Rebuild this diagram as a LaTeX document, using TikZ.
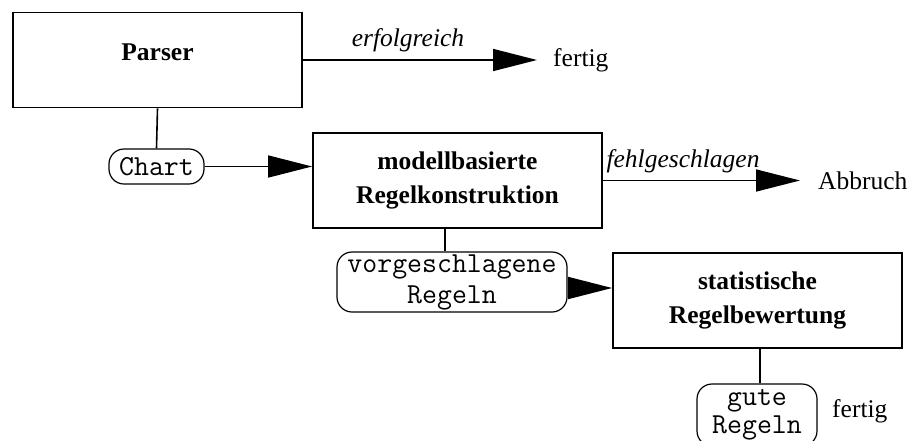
\documentclass[tikz,border=0pt]{standalone}
\usepackage{fontspec}
\setmainfont{Liberation Serif}
\usetikzlibrary{arrows.meta}
\begin{document}
\begin{tikzpicture}[x=1pt,y=-1pt,
  procbox/.style={draw,line width=1.8pt,minimum width=289pt,minimum height=95pt,inner sep=0pt,
    align=center,font=\fontsize{25.5}{34}\selectfont\bfseries},
  databox/.style={draw,line width=1.2pt,rounded corners=15pt,inner sep=0pt,align=center,
    font=\fontsize{29}{31}\selectfont\ttfamily},
  plain/.style={inner sep=0pt,font=\fontsize{25.5}{30}\selectfont},
  edgelabel/.style={inner sep=0pt,font=\fontsize{25.5}{30}\selectfont\itshape},
  conn/.style={line width=1.6pt},
  arr/.style={line width=1.6pt,-{Triangle[length=44pt,width=22pt]}}]
\useasboundingbox (0,0) rectangle (914,440);
% process boxes
\node[procbox,text height=18pt,text depth=18pt] (parser) at (157.5,60) {Parser};
\node[procbox] (regel) at (457.5,180.5) {modellbasierte\\Regelkonstruktion};
\node[procbox] (bewert) at (757.5,300.5) {statistische\\Regelbewertung};
% data boxes
\node[databox,minimum width=95pt,minimum height=35pt] (chart) at (156.5,166.5) {Chart};
\node[databox,minimum width=230pt,minimum height=60pt] (vorschl) at (452,282) {vorgeschlagene\\Regeln};
\node[databox,minimum width=120pt,minimum height=62pt,font=\fontsize{29}{28.5}\selectfont\ttfamily] (gute) at (757,415) {gute\\Regeln};
% end labels
\node[plain,anchor=west] (fertigA) at (553,60) {fertig};
\node[plain,anchor=west] (abbruch) at (818,180.5) {Abbruch};
\node[plain,anchor=base west] (fertigB) at (832,417) {fertig};
% edge labels
\node[edgelabel,anchor=base] (lerf) at (408,46) {erfolgreich};
\node[edgelabel,anchor=base] (lfehl) at (683,167) {fehlgeschlagen};
% connectors
\draw[conn] (parser.south) -- (chart.north);
\draw[arr] (chart.east) -- (chart.east -| regel.west);
\draw[arr,shorten >=16pt] (parser.east) -- (fertigA.west);
\draw[arr,shorten >=18pt] (regel.east) -- (abbruch.west);
\coordinate (rs) at ([xshift=-12.5pt]regel.south);
\draw[conn] (rs) -- (rs |- vorschl.north);
\coordinate (vs) at ([yshift=-6pt]vorschl.east);
\draw[arr] (vs) -- (vs -| bewert.west);
\coordinate (bs) at ([xshift=2.5pt]bewert.south);
\draw[conn] (bs) -- (bs |- gute.north);
\end{tikzpicture}
\end{document}
